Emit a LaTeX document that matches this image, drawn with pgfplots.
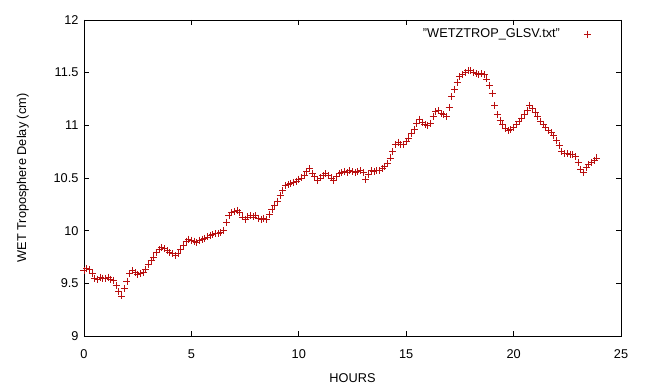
\documentclass[border=0pt]{standalone}
\usepackage{fontspec}
\setmainfont{Liberation Sans}
\usepackage{pgfplots}
\pgfplotsset{compat=1.18}
\definecolor{gpred}{RGB}{185,15,15}
\begin{document}
\begin{tikzpicture}
\begin{axis}[
  name=main,
  scale only axis,
  width=537bp, height=316bp,
  xmin=0, xmax=25, ymin=9, ymax=12,
  xtick={0,5,10,15,20,25},
  ytick={9,9.5,10,10.5,11,11.5,12},
  yticklabels={9,9.5,10,10.5,11,11.5,12},
  tick align=inside,
  major tick length=5bp,
  tick style={black, line width=0.8pt},
  axis line style={black, line width=0.8pt},
  /pgf/number format/assume math mode=true,
  ticklabel style={font=\fontsize{12.8}{15}\selectfont},
  xticklabel style={yshift=-10bp},
  yticklabel style={xshift=-2bp},
  label style={font=\fontsize{12.8}{15}\selectfont},
  xlabel={HOURS},
  ylabel={WET Troposphere Delay (cm)},
  xlabel style={yshift=-8bp},
  ylabel style={yshift=18bp},
  legend style={draw=none, fill=none, at={(0.950,0.985)}, anchor=north east,
    font=\fontsize{12.8}{15}\selectfont, legend cell align=right},
  legend plot pos=right,
]
\addplot[only marks, mark=+, mark size=3.5bp, gpred, line width=0.9pt] coordinates {
(0.000,9.62) (0.125,9.64) (0.250,9.63) (0.375,9.59) (0.500,9.55) (0.625,9.54) (0.750,9.56) (0.875,9.55)
(1.000,9.55) (1.125,9.56) (1.250,9.54) (1.375,9.53) (1.500,9.48) (1.625,9.42) (1.750,9.38) (1.875,9.45)
(2.000,9.52) (2.125,9.59) (2.250,9.62) (2.375,9.60) (2.500,9.58) (2.625,9.59) (2.750,9.60) (2.875,9.63)
(3.000,9.68) (3.125,9.72) (3.250,9.75) (3.375,9.79) (3.500,9.82) (3.625,9.84) (3.750,9.83) (3.875,9.81)
(4.000,9.79) (4.125,9.78) (4.250,9.76) (4.375,9.78) (4.500,9.82) (4.625,9.86) (4.750,9.90) (4.875,9.92)
(5.000,9.91) (5.125,9.90) (5.250,9.89) (5.375,9.91) (5.500,9.92) (5.625,9.93) (5.750,9.94) (5.875,9.95)
(6.000,9.96) (6.125,9.97) (6.250,9.97) (6.375,9.98) (6.500,10.00) (6.625,10.08) (6.750,10.14) (6.875,10.17)
(7.000,10.18) (7.125,10.19) (7.250,10.17) (7.375,10.13) (7.500,10.11) (7.625,10.13) (7.750,10.14) (7.875,10.13)
(8.000,10.14) (8.125,10.12) (8.250,10.11) (8.375,10.12) (8.500,10.11) (8.625,10.15) (8.750,10.20) (8.875,10.24)
(9.000,10.28) (9.125,10.33) (9.250,10.38) (9.375,10.43) (9.500,10.44) (9.625,10.45) (9.750,10.46) (9.875,10.47)
(10.000,10.49) (10.125,10.50) (10.250,10.52) (10.375,10.56) (10.500,10.59) (10.625,10.54) (10.750,10.51) (10.875,10.48)
(11.000,10.50) (11.125,10.52) (11.250,10.54) (11.375,10.52) (11.500,10.50) (11.625,10.48) (11.750,10.51) (11.875,10.54)
(12.000,10.55) (12.125,10.56) (12.250,10.55) (12.375,10.57) (12.500,10.56) (12.625,10.55) (12.750,10.56) (12.875,10.57)
(13.000,10.55) (13.125,10.49) (13.250,10.53) (13.375,10.57) (13.500,10.56) (13.625,10.57) (13.750,10.57) (13.875,10.59)
(14.000,10.61) (14.125,10.64) (14.250,10.69) (14.375,10.75) (14.500,10.82) (14.625,10.84) (14.750,10.82) (14.875,10.82)
(15.000,10.85) (15.125,10.88) (15.250,10.92) (15.375,10.96) (15.500,11.02) (15.625,11.06) (15.750,11.03) (15.875,11.01)
(16.000,11.00) (16.125,11.02) (16.250,11.08) (16.375,11.13) (16.500,11.14) (16.625,11.11) (16.750,11.10) (16.875,11.08)
(17.000,11.17) (17.125,11.27) (17.250,11.34) (17.375,11.41) (17.500,11.46) (17.625,11.48) (17.750,11.50) (17.875,11.52)
(18.000,11.52) (18.125,11.50) (18.250,11.49) (18.375,11.48) (18.500,11.49) (18.625,11.48) (18.750,11.44) (18.875,11.38)
(19.000,11.30) (19.125,11.19) (19.250,11.10) (19.375,11.05) (19.500,11.01) (19.625,10.97) (19.750,10.95) (19.875,10.96)
(20.000,10.98) (20.125,11.01) (20.250,11.04) (20.375,11.07) (20.500,11.10) (20.625,11.14) (20.750,11.19) (20.875,11.16)
(21.000,11.12) (21.125,11.08) (21.250,11.04) (21.375,11.01) (21.500,10.98) (21.625,10.95) (21.750,10.93) (21.875,10.90)
(22.000,10.86) (22.125,10.81) (22.250,10.75) (22.375,10.73) (22.500,10.73) (22.625,10.72) (22.750,10.72) (22.875,10.70)
(23.000,10.65) (23.125,10.58) (23.250,10.55) (23.375,10.60) (23.500,10.63) (23.625,10.65) (23.750,10.67) (23.875,10.69)
};
\addlegendentry{"WETZTROP\_GLSV.txt"\hspace*{22bp}}
\end{axis}
\pgfresetboundingbox
\path (main.south west) ++(-84bp,-49bp) rectangle ++(651bp,385bp);
\end{tikzpicture}
\end{document}
